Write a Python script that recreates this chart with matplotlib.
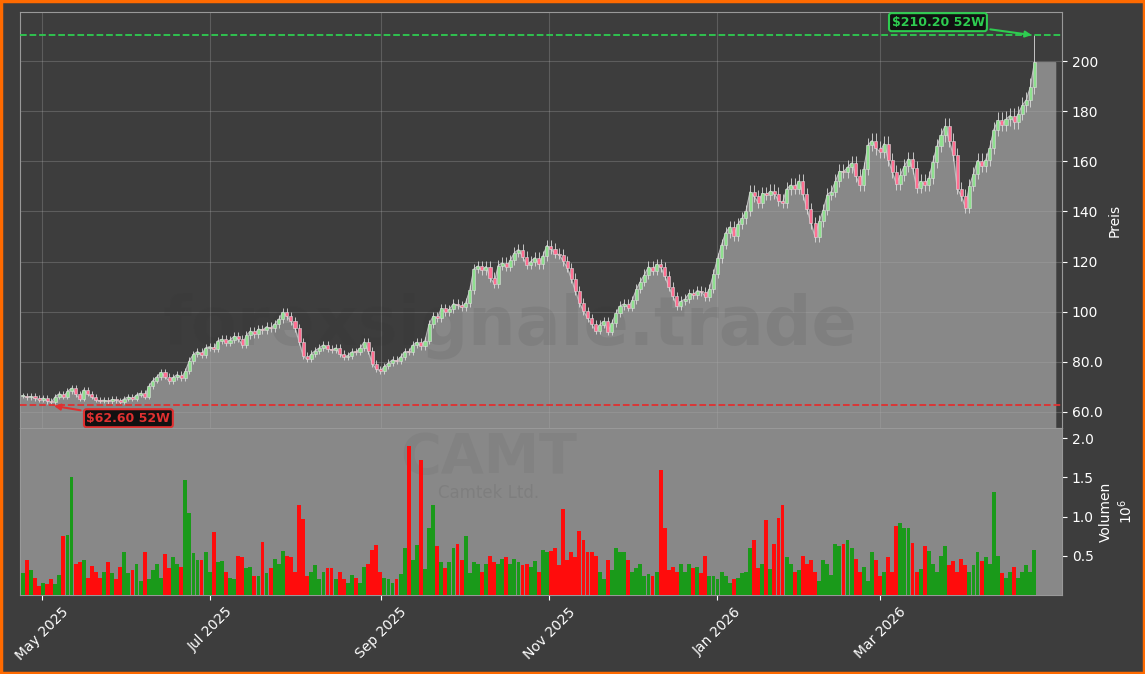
import numpy as np
import pandas as pd
import matplotlib
matplotlib.use("Agg")
import matplotlib.pyplot as plt
import matplotlib.dates as mdates
from matplotlib.ticker import FixedLocator, FixedFormatter

# Tagesschlusskurse (geschätzt aus dem Bild)
closes = [
    66.5, 65.8, 66.2, 65.4, 64.9, 65.6, 64.3, 63.8, 66.1, 67.3,
    66.0, 68.2, 69.5, 67.1, 65.3, 68.8, 67.2, 66.0, 64.8, 64.5,
    64.7, 64.2, 65.0, 64.6, 64.1, 65.3, 66.0, 65.2, 66.8, 67.5,
    66.1, 70.2, 72.5, 74.0, 75.8, 74.1, 72.3, 73.8, 74.9, 73.6,
    76.2, 80.5, 83.0, 84.1, 82.7, 85.6, 86.0, 85.2, 88.4, 89.0,
    87.6, 88.7, 90.2, 89.1, 86.8, 90.5, 92.3, 91.0, 93.1, 92.6,
    94.0, 93.3, 95.1, 97.0, 99.8, 98.2, 96.1, 93.4, 88.0, 82.3,
    81.0, 83.1, 84.5, 85.6, 86.8, 85.3, 84.7, 85.5, 83.2, 82.0,
    82.5, 84.0, 83.8, 85.5, 87.9, 84.2, 79.3, 77.1, 76.4, 78.2,
    79.5, 80.8, 80.2, 82.0, 84.1, 83.9, 86.7, 87.8, 86.2, 88.5,
    95.1, 98.2, 97.4, 101.3, 99.8, 101.0, 103.2, 102.5, 101.8, 103.5,
    108.5, 117.0, 118.2, 116.5, 118.0, 113.6, 111.2, 118.4, 119.5, 117.8,
    120.6, 123.5, 124.8, 121.9, 118.7, 120.0, 121.5, 118.9, 122.2, 126.4,
    125.0, 123.2, 122.8, 120.1, 117.5, 113.2, 108.1, 103.5, 100.2, 97.4,
    95.0, 92.3, 94.8, 96.2, 92.0, 95.5, 99.4, 102.3, 103.1, 101.6,
    104.5, 108.9, 112.0, 114.8, 117.9, 116.2, 118.9, 117.7, 114.2, 110.0,
    106.1, 102.3, 104.2, 105.0, 107.3, 106.7, 108.4, 107.9, 106.0, 109.2,
    115.0, 121.3, 126.8, 131.5, 133.8, 130.2, 134.9, 137.2, 140.1, 147.8,
    146.0, 143.5, 147.2, 146.6, 148.1, 147.0, 144.2, 143.5, 148.9, 150.5,
    149.0, 152.1, 146.8, 141.0, 135.2, 129.8, 136.0, 140.5, 146.7, 147.9,
    152.0, 156.0, 155.8, 157.6, 159.3, 154.2, 150.6, 157.0, 166.4, 168.2,
    165.1, 163.8, 167.0, 160.5, 155.7, 150.9, 154.6, 158.2, 161.0, 157.2,
    149.5, 152.0, 150.6, 153.2, 159.7, 166.0, 170.4, 174.0, 168.2, 162.5,
    149.0, 146.2, 141.5, 150.2, 155.1, 160.3, 158.0, 160.5, 165.4, 172.6,
    176.3, 174.5, 176.8, 178.2, 175.6, 179.0, 182.3, 184.5, 189.7, 199.5,
]

# Volumen in Mio. Stück
volumes = [
    0.28, 0.45, 0.32, 0.22, 0.12, 0.16, 0.14, 0.20, 0.14, 0.26,
    0.75, 0.77, 1.50, 0.40, 0.42, 0.45, 0.22, 0.37, 0.30, 0.22,
    0.30, 0.42, 0.28, 0.20, 0.36, 0.55, 0.28, 0.32, 0.40, 0.18,
    0.55, 0.20, 0.32, 0.40, 0.22, 0.52, 0.34, 0.48, 0.40, 0.36,
    1.47, 1.05, 0.54, 0.45, 0.45, 0.55, 0.30, 0.80, 0.42, 0.43,
    0.30, 0.22, 0.20, 0.50, 0.48, 0.34, 0.36, 0.25, 0.25, 0.68,
    0.28, 0.34, 0.46, 0.40, 0.56, 0.50, 0.48, 0.30, 1.15, 0.97,
    0.25, 0.30, 0.38, 0.20, 0.30, 0.35, 0.34, 0.20, 0.30, 0.20,
    0.15, 0.26, 0.22, 0.15, 0.36, 0.40, 0.58, 0.64, 0.30, 0.22,
    0.20, 0.16, 0.20, 0.27, 0.60, 1.90, 0.45, 0.64, 1.72, 0.33,
    0.85, 1.15, 0.62, 0.42, 0.35, 0.42, 0.60, 0.65, 0.45, 0.75,
    0.28, 0.42, 0.40, 0.30, 0.40, 0.50, 0.42, 0.40, 0.46, 0.48,
    0.40, 0.46, 0.42, 0.38, 0.40, 0.36, 0.44, 0.30, 0.58, 0.55,
    0.56, 0.60, 0.38, 1.10, 0.45, 0.55, 0.48, 0.82, 0.70, 0.55,
    0.55, 0.50, 0.30, 0.20, 0.45, 0.32, 0.60, 0.55, 0.55, 0.45,
    0.30, 0.34, 0.40, 0.25, 0.27, 0.25, 0.30, 1.60, 0.85, 0.32,
    0.36, 0.30, 0.40, 0.30, 0.40, 0.35, 0.36, 0.28, 0.50, 0.25,
    0.25, 0.20, 0.30, 0.25, 0.15, 0.20, 0.22, 0.28, 0.30, 0.60,
    0.70, 0.34, 0.40, 0.96, 0.33, 0.65, 0.98, 1.15, 0.48, 0.40,
    0.30, 0.32, 0.50, 0.40, 0.45, 0.30, 0.18, 0.45, 0.40, 0.26,
    0.65, 0.62, 0.65, 0.70, 0.60, 0.46, 0.30, 0.36, 0.18, 0.55,
    0.45, 0.25, 0.30, 0.48, 0.30, 0.88, 0.92, 0.86, 0.85, 0.66,
    0.30, 0.33, 0.62, 0.56, 0.40, 0.30, 0.50, 0.62, 0.38, 0.44,
    0.30, 0.46, 0.38, 0.30, 0.38, 0.55, 0.44, 0.48, 0.40, 1.32,
    0.50, 0.28, 0.22, 0.30, 0.36, 0.22, 0.30, 0.38, 0.30, 0.58,
]

high_52w = 210.20
low_52w = 62.60
price_ticks = [60, 80, 100, 120, 140, 160, 180, 200]
price_tick_labels = ["60.0", "80.0", "100", "120", "140", "160", "180", "200"]
vol_ticks = [0.5, 1.0, 1.5, 2.0]
vol_tick_labels = ["0.5", "1.0", "1.5", "2.0"]
month_ticks = ["2025-05-01", "2025-07-01", "2025-09-01", "2025-11-01", "2026-01-01", "2026-03-01"]

# gleichmäßig verteilte Handelstage
dates = pd.date_range("2025-04-24", "2026-04-26", periods=len(closes))
c = np.array(closes)
o = np.concatenate([[c[0]], c[:-1]])
hi = np.maximum(o, c) * 1.018
lo = np.minimum(o, c) * 0.985
hi[-1] = high_52w
lo[7] = low_52w
x = mdates.date2num(dates)
step = x[1] - x[0]
up = c >= o

BG = "#3d3d3d"
fig = plt.figure(figsize=(11.45, 6.74), dpi=100, facecolor=BG)
fig.patches.append(plt.Rectangle((0.001, 0.001), 0.998, 0.998, transform=fig.transFigure,
                                 fill=False, edgecolor="#ff6a00", linewidth=2.5))
ax = fig.add_axes([0.0175, 0.365, 0.91, 0.617], facecolor=BG)
axv = fig.add_axes([0.0175, 0.117, 0.91, 0.248], facecolor="#888888", sharex=ax)

# Fläche unter dem Kurs
xf = np.concatenate([[x[0] - 1.5], x, [x[-1] + 7.5]])
cf = np.concatenate([[c[0]], c, [c[-1]]])
ax.fill_between(xf, 0, cf, color="#888888", zorder=1)
ax.plot(x, c, color="#bbbbbb", lw=0.8, zorder=2)

# Kerzen
w = step * 0.75
for xi, oi, ci, hh, ll, u in zip(x, o, c, hi, lo, up):
    col = "#8fe08f" if u else "#ff6f92"
    ax.vlines(xi, ll, hh, color="#dddddd", lw=0.7, alpha=0.85, zorder=3)
    ax.add_patch(plt.Rectangle((xi - w / 2, min(oi, ci)), w, max(abs(ci - oi), 0.4),
                               facecolor=col, edgecolor="#dddddd", lw=0.4, zorder=4))

ax.axhline(high_52w, color="#2ecc50", ls="--", lw=1.3, zorder=5)
ax.axhline(low_52w, color="#e03030", ls="--", lw=1.3, zorder=5)
ax.annotate(f"${high_52w:.2f} 52W", xy=(x[-1], high_52w), xytext=(x[-1] - 35, 215.5),
            color="#2ecc50", fontsize=9, fontweight="bold", ha="center", va="center",
            bbox=dict(boxstyle="round,pad=0.2", fc="#111111", ec="#2ecc50", lw=1.5),
            arrowprops=dict(arrowstyle="-|>", color="#2ecc50", lw=1.5), zorder=6)
ax.annotate(f"${low_52w:.2f} 52W", xy=(x[7], low_52w), xytext=(x[7] + 28, 57.5),
            color="#e03030", fontsize=9, fontweight="bold", ha="center", va="center",
            bbox=dict(boxstyle="round,pad=0.2", fc="#111111", ec="#e03030", lw=1.5),
            arrowprops=dict(arrowstyle="-|>", color="#e03030", lw=1.5), zorder=6)

ax.text(0.47, 0.245, "forexsignale.trade", transform=ax.transAxes, ha="center", va="center",
        fontsize=48, fontweight="bold", color="#333333", alpha=0.1, zorder=2)
axv.text(0.45, 0.82, "CAMT", transform=axv.transAxes, ha="center", va="center",
         fontsize=40, fontweight="bold", color="#6a6a6a", alpha=0.2)
axv.text(0.45, 0.61, "Camtek Ltd.", transform=axv.transAxes, ha="center", va="center",
         fontsize=12, color="#6a6a6a", alpha=0.3)

ax.set_ylim(53.6, 219.5)
ax.set_xlim(x[0] - 1.0, x[-1] + 10)
for a in (ax, axv):
    a.yaxis.tick_right()
    a.yaxis.set_label_position("right")
    a.grid(True, color="#aaaaaa", alpha=0.3, lw=0.8)
    a.tick_params(colors="white", labelsize=10)
    for s in a.spines.values():
        s.set_color("#999999")
ax.yaxis.set_major_locator(FixedLocator(price_ticks))
ax.yaxis.set_major_formatter(FixedFormatter(price_tick_labels))
ax.set_ylabel("Preis", color="white")
ax.tick_params(axis="x", labelbottom=False, length=0)

vcol = ["#1a9a1a" if u else "#ff0c0c" for u in up]
axv.bar(x, volumes, width=step * 0.95, color=vcol, zorder=3)
axv.set_ylim(0, 2.13)
axv.yaxis.set_major_locator(FixedLocator(vol_ticks))
axv.yaxis.set_major_formatter(FixedFormatter(vol_tick_labels))
axv.set_ylabel("Volumen\n$10^6$", color="white")
axv.grid(False)
axv.set_xticks(mdates.date2num(pd.to_datetime(month_ticks)))
axv.xaxis.set_major_formatter(mdates.DateFormatter("%b %Y"))
plt.setp(axv.get_xticklabels(), rotation=45, ha="center", rotation_mode="default")

fig.savefig("out.png", dpi=100, facecolor=BG)
